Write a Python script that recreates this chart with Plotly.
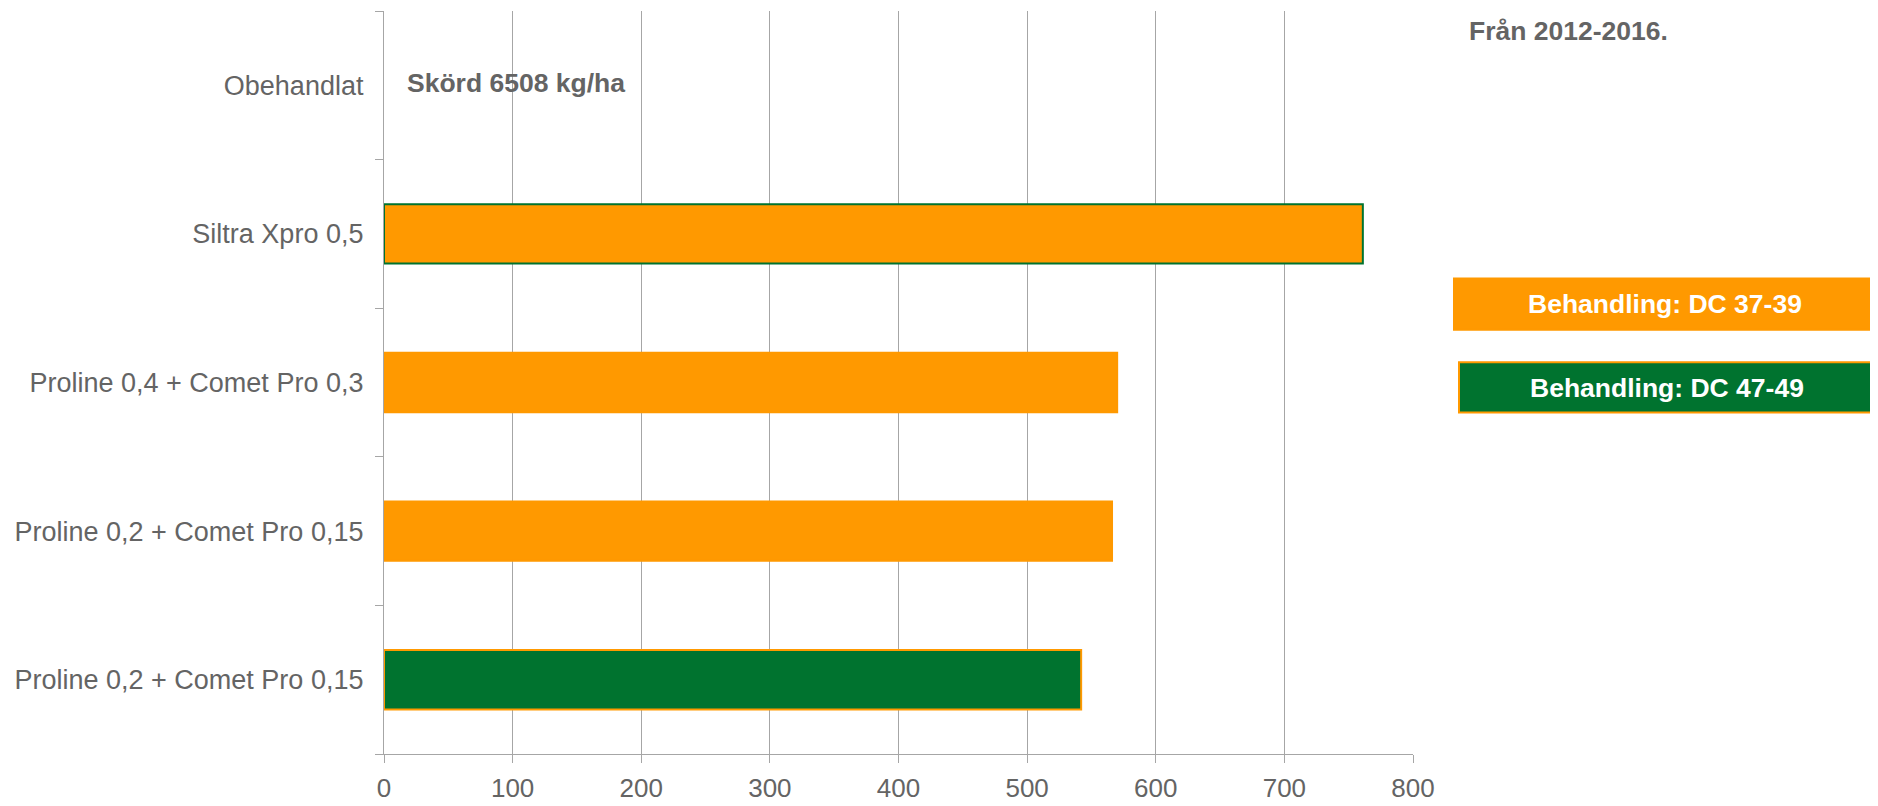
import plotly.graph_objects as go

# ---- data ----
categories = [
    "Obehandlat",
    "Siltra Xpro 0,5",
    "Proline 0,4 + Comet Pro 0,3",
    "Proline 0,2 + Comet Pro 0,15",
    "Proline 0,2 + Comet Pro 0,15",
]
values = [None, 761, 570, 566, 542]
treatments = ["", "DC 37-39", "DC 37-39", "DC 37-39", "DC 47-49"]
x_ticks = [0, 100, 200, 300, 400, 500, 600, 700, 800]
yield_note = "Skörd 6508 kg/ha"
period_note = "Från 2012-2016."
legend_labels = ["Behandling: DC 37-39", "Behandling: DC 47-49"]

# ---- styles ----
ORANGE = "#FF9900"
GREEN = "#00732F"
GRID = "#A6A6A6"
TEXT = "#646464"
FONT = "Liberation Sans, Arial, sans-serif"

OFF = 8  # page body margin
WIN_W, WIN_H = 1878, 806
W, H = WIN_W - OFF, WIN_H - OFF  # figure fits inside the window
# plot area in window pixels (as measured), converted to figure pixels
L, R, T, B = 384 - OFF, 1413 - OFF, 11 - OFF, 764 - OFF

fill_for = {"DC 37-39": ORANGE, "DC 47-49": GREEN}
fills = [fill_for.get(t, ORANGE) for t in treatments]
# outline colours as in the reference
outlines = [ORANGE, GREEN, ORANGE, ORANGE, ORANGE]

ypos = list(range(len(categories)))


def px(x):
    return (x - OFF - L) / (R - L)


def py(y):
    return 1 - (y - OFF - T) / (B - T)


fig = go.Figure()
fig.add_trace(go.Bar(
    x=values,
    y=ypos,
    orientation="h",
    width=0.4,
    marker=dict(color=fills, line=dict(color=outlines, width=2)),
    showlegend=False,
    hovertemplate="%{x}<extra></extra>",
))

fig.update_layout(
    width=W, height=H,
    margin=dict(l=L, r=W - R, t=T, b=H - B, pad=0),
    plot_bgcolor="white",
    paper_bgcolor="white",
    font=dict(family=FONT, size=27, color=TEXT),
    xaxis=dict(
        range=[0, 800],
        tickvals=x_ticks,
        showgrid=True, gridcolor=GRID, gridwidth=1.3,
        showline=True, linecolor=GRID, linewidth=1.3,
        ticks="outside", ticklen=8, tickcolor=GRID, tickwidth=1.3,
        zeroline=False,
        ticklabelstandoff=3,
        tickfont=dict(size=26, color=TEXT, family=FONT),
        fixedrange=True,
    ),
    yaxis=dict(
        range=[len(categories) - 0.5, -0.5],
        tickvals=ypos,
        ticktext=categories,
        ticks="",
        showgrid=False,
        zeroline=False,
        showline=True, linecolor=GRID, linewidth=1.3,
        ticklabelstandoff=14,
        tickfont=dict(size=27, color=TEXT, family=FONT),
        minor=dict(
            tickvals=[i - 0.5 for i in range(len(categories) + 1)],
            ticks="outside", ticklen=8, tickcolor=GRID, tickwidth=1.3,
            showgrid=False,
        ),
        fixedrange=True,
    ),
)

# text notes
fig.add_annotation(
    xref="paper", yref="paper", x=px(405), y=py(84),
    xanchor="left", yanchor="middle", showarrow=False,
    text=yield_note,
    font=dict(family=FONT, size=26.5, color=TEXT, weight="bold"),
)
fig.add_annotation(
    xref="paper", yref="paper", x=px(1467), y=py(31),
    xanchor="left", yanchor="middle", showarrow=False,
    text=period_note,
    font=dict(family=FONT, size=26.5, color=TEXT, weight="bold"),
)

# legend boxes
boxes = [
    dict(x0=1454, x1=1877, y0=282, y1=334, fill=ORANGE, line=ORANGE, cx=1665, cy=308),
    dict(x0=1459, x1=1880, y0=367, y1=418, fill=GREEN, line=ORANGE, cx=1667, cy=393),
]
for b, label in zip(boxes, legend_labels):
    fig.add_shape(
        type="rect", xref="paper", yref="paper",
        x0=px(b["x0"]), x1=px(b["x1"]), y0=py(b["y1"]), y1=py(b["y0"]),
        fillcolor=b["fill"], line=dict(color=b["line"], width=2),
        layer="above",
    )
    fig.add_annotation(
        xref="paper", yref="paper", x=px(b["cx"]), y=py(b["cy"]),
        xanchor="center", yanchor="middle", showarrow=False,
        text=label,
        font=dict(family=FONT, size=26.5, color="white", weight="bold"),
    )

fig.write_html("out.html")
